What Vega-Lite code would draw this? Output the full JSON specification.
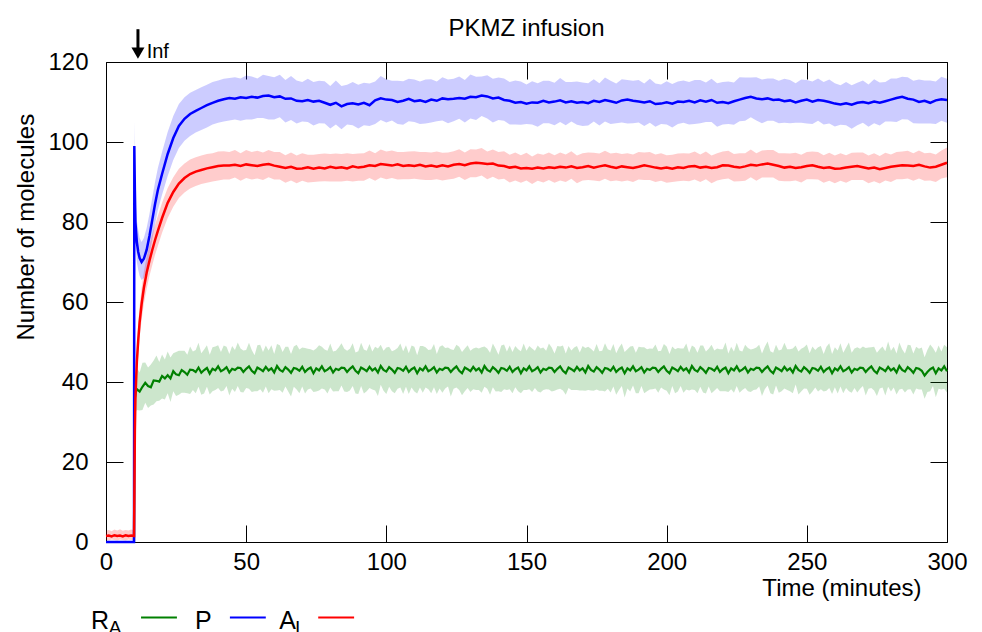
{
"$schema":"https://vega.github.io/schema/vega-lite/v6.json",
"autosize":"none",
"width":841,"height":480,
"padding":{"left":106,"top":62,"right":35,"bottom":90},
"background":"white",
"title":{"text":"PKMZ infusion","font":"Liberation Sans","fontSize":24,"fontWeight":"normal","color":"#000","baseline":"alphabetic","offset":-32,"anchor":"middle"},
"config":{"view":{"stroke":"#000","strokeWidth":1},
 "axis":{"labelFont":"Liberation Sans","labelFontSize":24,"titleFont":"Liberation Sans","titleFontSize":24,"titleFontWeight":"normal","labelColor":"#000","titleColor":"#000","tickColor":"#000","tickWidth":1,"grid":false,"domain":false}},
"resolve":{"axis":{"x":"independent","y":"independent"}},
"datasets":{
"ra":[
{"t":0,"r":0,"l":0,"h":0},{"t":10,"r":0,"l":0,"h":0},
{"t":10.1,"r":30,"l":25,"h":35},{"t":10.3,"r":36,"l":31,"h":41},{"t":10.5,"r":37.2,"l":32.5,"h":42},
{"t":11,"r":38.2,"l":33.0,"h":43.5},{"t":12,"r":37.6,"l":32.9,"h":42.4},{"t":13,"r":38.8,"l":33.0,"h":44.8},{"t":14,"r":39.8,"l":34.8,"h":44.9},{"t":15,"r":39.0,"l":33.5,"h":43.6},
{"t":16,"r":38.7,"l":34.1,"h":44.4},{"t":17,"r":40.4,"l":34.4,"h":45.4},{"t":18,"r":40.3,"l":35.2,"h":46.6},{"t":19,"r":40.1,"l":35.3,"h":45.0},{"t":20,"r":41.5,"l":35.9,"h":46.9},
{"t":21,"r":40.9,"l":35.6,"h":45.6},{"t":22,"r":41.7,"l":37.2,"h":47.6},{"t":23,"r":40.9,"l":35.0,"h":46.1},{"t":24,"r":42.7,"l":37.7,"h":47.2},{"t":25,"r":41.9,"l":36.5,"h":47.5},
{"t":26,"r":41.7,"l":36.8,"h":47.8},{"t":27,"r":43.0,"l":37.3,"h":47.8},{"t":28,"r":42.5,"l":37.3,"h":47.8},{"t":29,"r":41.8,"l":37.2,"h":46.8},{"t":30,"r":43.1,"l":37.0,"h":48.9},
{"t":31,"r":43.0,"l":38.0,"h":47.6},{"t":32,"r":42.5,"l":37.2,"h":48.0},{"t":33,"r":43.6,"l":38.8,"h":49.8},{"t":34,"r":42.3,"l":36.8,"h":47.2},{"t":35,"r":43.0,"l":37.1,"h":48.1},
{"t":36,"r":43.5,"l":38.8,"h":49.2},{"t":37,"r":42.1,"l":36.9,"h":46.8},{"t":38,"r":43.3,"l":37.7,"h":48.7},{"t":39,"r":42.9,"l":38.0,"h":48.9},{"t":40,"r":43.9,"l":38.5,"h":49.2},
{"t":41,"r":42.7,"l":37.6,"h":47.5},{"t":42,"r":43.1,"l":37.9,"h":49.1},{"t":43,"r":43.7,"l":39.0,"h":48.8},{"t":44,"r":42.4,"l":36.6,"h":47.0},{"t":45,"r":43.3,"l":38.3,"h":49.0},
{"t":46,"r":43.0,"l":37.5,"h":48.0},{"t":47,"r":43.6,"l":39.0,"h":49.9},{"t":48,"r":43.5,"l":37.5,"h":48.4},{"t":49,"r":42.5,"l":37.4,"h":47.9},{"t":50,"r":43.3,"l":38.5,"h":48.0},
{"t":51,"r":43.9,"l":38.3,"h":49.8},{"t":52,"r":42.8,"l":37.5,"h":48.0},{"t":53,"r":42.2,"l":37.7,"h":46.7},{"t":54,"r":43.6,"l":37.7,"h":49.2},{"t":55,"r":43.2,"l":38.2,"h":49.3},
{"t":56,"r":42.7,"l":37.3,"h":47.5},{"t":57,"r":43.8,"l":38.9,"h":49.1},{"t":58,"r":42.9,"l":37.2,"h":47.9},{"t":59,"r":43.4,"l":38.2,"h":49.2},{"t":60,"r":42.4,"l":37.8,"h":47.0},
{"t":61,"r":44.0,"l":37.9,"h":49.5},{"t":62,"r":43.0,"l":38.0,"h":49.2},{"t":63,"r":42.6,"l":37.3,"h":47.5},{"t":64,"r":43.7,"l":38.9,"h":48.8},{"t":65,"r":43.1,"l":37.6,"h":48.8},
{"t":66,"r":42.3,"l":36.4,"h":47.0},{"t":67,"r":43.5,"l":38.8,"h":48.9},{"t":68,"r":43.3,"l":38.1,"h":49.3},{"t":69,"r":42.8,"l":37.2,"h":48.1},{"t":70,"r":43.8,"l":38.9,"h":48.6},
{"t":71,"r":42.5,"l":37.1,"h":48.5},{"t":72,"r":43.2,"l":38.1,"h":48.3},{"t":73,"r":43.6,"l":38.4,"h":48.2},{"t":74,"r":42.2,"l":37.5,"h":47.9},{"t":75,"r":43.4,"l":37.6,"h":48.4},
{"t":76,"r":42.9,"l":37.9,"h":49.2},{"t":77,"r":43.9,"l":38.4,"h":48.8},{"t":78,"r":42.7,"l":38.1,"h":48.1},{"t":79,"r":43.1,"l":37.1,"h":47.8},{"t":80,"r":43.7,"l":38.6,"h":49.6},
{"t":81,"r":42.4,"l":37.6,"h":47.6},{"t":82,"r":43.3,"l":37.7,"h":47.8},{"t":83,"r":43.0,"l":37.7,"h":48.6},{"t":84,"r":43.6,"l":39.1,"h":49.7},{"t":85,"r":43.5,"l":37.6,"h":48.3},
{"t":86,"r":42.5,"l":37.5,"h":47.8},{"t":87,"r":43.3,"l":37.9,"h":48.3},{"t":88,"r":43.9,"l":39.0,"h":49.7},{"t":89,"r":42.8,"l":37.1,"h":47.4},{"t":90,"r":42.2,"l":37.0,"h":47.7},
{"t":91,"r":43.6,"l":39.0,"h":49.8},{"t":92,"r":43.2,"l":37.1,"h":48.1},{"t":93,"r":42.7,"l":37.7,"h":47.8},{"t":94,"r":43.8,"l":38.5,"h":49.5},{"t":95,"r":42.9,"l":38.1,"h":47.6},
{"t":96,"r":43.4,"l":37.9,"h":48.8},{"t":97,"r":42.4,"l":36.5,"h":48.4},{"t":98,"r":44.0,"l":39.3,"h":49.3},{"t":99,"r":43.0,"l":37.8,"h":47.8},{"t":100,"r":42.6,"l":37.0,"h":48.6},
{"t":101,"r":43.7,"l":38.8,"h":48.8},{"t":102,"r":43.1,"l":37.7,"h":47.7},{"t":103,"r":42.3,"l":37.2,"h":48.0},{"t":104,"r":43.5,"l":38.3,"h":48.5},{"t":105,"r":43.3,"l":38.6,"h":49.6},
{"t":106,"r":42.8,"l":37.0,"h":47.7},{"t":107,"r":43.8,"l":38.8,"h":49.2},{"t":108,"r":42.5,"l":37.0,"h":47.2},{"t":109,"r":43.2,"l":38.6,"h":49.1},{"t":110,"r":43.6,"l":37.6,"h":48.8},
{"t":111,"r":42.2,"l":37.1,"h":46.7},{"t":112,"r":43.4,"l":38.6,"h":49.0},{"t":113,"r":42.9,"l":37.3,"h":49.0},{"t":114,"r":43.9,"l":38.6,"h":48.7},{"t":115,"r":42.7,"l":38.2,"h":48.0},
{"t":116,"r":43.1,"l":37.2,"h":48.1},{"t":117,"r":43.7,"l":38.7,"h":49.5},{"t":118,"r":42.4,"l":37.0,"h":47.0},{"t":119,"r":43.3,"l":38.4,"h":48.8},{"t":120,"r":43.0,"l":37.3,"h":49.2},
{"t":121,"r":43.6,"l":38.4,"h":48.5},{"t":122,"r":43.5,"l":38.9,"h":48.6},{"t":123,"r":42.5,"l":36.4,"h":48.2},{"t":124,"r":43.3,"l":38.3,"h":48.0},{"t":125,"r":43.9,"l":38.6,"h":49.3},
{"t":126,"r":42.8,"l":38.0,"h":48.8},{"t":127,"r":42.2,"l":36.7,"h":47.5},{"t":128,"r":43.6,"l":37.7,"h":48.4},{"t":129,"r":43.2,"l":38.5,"h":49.2},{"t":130,"r":42.7,"l":37.5,"h":47.8},
{"t":131,"r":43.8,"l":38.2,"h":48.4},{"t":132,"r":42.9,"l":38.0,"h":48.6},{"t":133,"r":43.4,"l":38.0,"h":48.4},{"t":134,"r":42.4,"l":37.3,"h":48.7},{"t":135,"r":44.0,"l":38.8,"h":48.9},
{"t":136,"r":43.0,"l":38.3,"h":48.4},{"t":137,"r":42.6,"l":36.8,"h":47.3},{"t":138,"r":43.7,"l":38.7,"h":49.6},{"t":139,"r":43.1,"l":37.6,"h":48.3},{"t":140,"r":42.3,"l":37.7,"h":46.8},
{"t":141,"r":43.5,"l":37.5,"h":49.1},{"t":142,"r":43.3,"l":38.2,"h":49.4},{"t":143,"r":42.8,"l":38.0,"h":47.6},{"t":144,"r":43.8,"l":38.2,"h":49.1},{"t":145,"r":42.5,"l":37.2,"h":47.5},
{"t":146,"r":43.2,"l":38.7,"h":49.0},{"t":147,"r":43.6,"l":37.7,"h":48.2},{"t":148,"r":42.2,"l":37.2,"h":47.7},{"t":149,"r":43.4,"l":38.0,"h":49.6},{"t":150,"r":42.9,"l":38.0,"h":47.8},
{"t":151,"r":43.9,"l":38.2,"h":49.0},{"t":152,"r":42.7,"l":37.5,"h":48.4},{"t":153,"r":43.1,"l":38.5,"h":47.8},{"t":154,"r":43.7,"l":37.6,"h":49.1},{"t":155,"r":42.4,"l":37.4,"h":48.4},
{"t":156,"r":43.3,"l":38.0,"h":48.6},{"t":157,"r":43.0,"l":38.2,"h":47.8},{"t":158,"r":43.6,"l":38.1,"h":49.6},{"t":159,"r":43.5,"l":37.6,"h":48.6},{"t":160,"r":42.5,"l":37.8,"h":47.1},
{"t":161,"r":43.3,"l":38.1,"h":49.0},{"t":162,"r":43.9,"l":38.3,"h":48.9},{"t":163,"r":42.8,"l":37.9,"h":49.1},{"t":164,"r":42.2,"l":36.8,"h":47.1},{"t":165,"r":43.6,"l":38.5,"h":49.0},
{"t":166,"r":43.2,"l":38.0,"h":47.9},{"t":167,"r":42.7,"l":38.0,"h":48.6},{"t":168,"r":43.8,"l":38.0,"h":49.0},{"t":169,"r":42.9,"l":37.9,"h":47.4},{"t":170,"r":43.4,"l":37.9,"h":49.0},
{"t":171,"r":42.4,"l":37.8,"h":48.5},{"t":172,"r":44.0,"l":38.0,"h":48.8},{"t":173,"r":43.0,"l":37.9,"h":48.3},{"t":174,"r":42.6,"l":37.8,"h":47.6},{"t":175,"r":43.7,"l":38.1,"h":49.5},
{"t":176,"r":43.1,"l":37.8,"h":47.7},{"t":177,"r":42.3,"l":37.8,"h":47.8},{"t":178,"r":43.5,"l":37.6,"h":49.7},{"t":179,"r":43.3,"l":38.3,"h":48.2},{"t":180,"r":42.8,"l":37.4,"h":47.9},
{"t":181,"r":43.8,"l":38.9,"h":49.5},{"t":182,"r":42.5,"l":36.8,"h":47.2},{"t":183,"r":43.2,"l":38.0,"h":48.6},{"t":184,"r":43.6,"l":39.0,"h":49.6},{"t":185,"r":42.2,"l":36.1,"h":47.5},
{"t":186,"r":43.4,"l":38.4,"h":48.2},{"t":187,"r":42.9,"l":37.6,"h":48.9},{"t":188,"r":43.9,"l":39.1,"h":49.0},{"t":189,"r":42.7,"l":37.2,"h":47.3},{"t":190,"r":43.1,"l":37.2,"h":48.8},
{"t":191,"r":43.7,"l":39.0,"h":48.7},{"t":192,"r":42.4,"l":37.2,"h":48.7},{"t":193,"r":43.3,"l":37.7,"h":48.2},{"t":194,"r":43.0,"l":38.1,"h":48.4},{"t":195,"r":43.6,"l":38.2,"h":48.3},
{"t":196,"r":43.5,"l":38.4,"h":49.4},{"t":197,"r":42.5,"l":37.3,"h":47.7},{"t":198,"r":43.3,"l":38.6,"h":47.8},{"t":199,"r":43.9,"l":38.1,"h":49.5},{"t":200,"r":42.8,"l":37.8,"h":48.9},
{"t":201,"r":42.2,"l":36.7,"h":47.0},{"t":202,"r":43.6,"l":39.0,"h":48.9},{"t":203,"r":43.2,"l":37.2,"h":48.2},{"t":204,"r":42.7,"l":37.6,"h":48.5},{"t":205,"r":43.8,"l":39.0,"h":48.4},
{"t":206,"r":42.9,"l":37.3,"h":48.4},{"t":207,"r":43.4,"l":38.1,"h":49.6},{"t":208,"r":42.4,"l":37.9,"h":47.3},{"t":209,"r":44.0,"l":38.1,"h":49.1},{"t":210,"r":43.0,"l":38.0,"h":48.7},
{"t":211,"r":42.6,"l":37.2,"h":47.3},{"t":212,"r":43.7,"l":38.8,"h":49.1},{"t":213,"r":43.1,"l":37.4,"h":49.1},{"t":214,"r":42.3,"l":37.1,"h":47.6},{"t":215,"r":43.5,"l":38.9,"h":48.3},
{"t":216,"r":43.3,"l":37.2,"h":49.3},{"t":217,"r":42.8,"l":37.8,"h":47.9},{"t":218,"r":43.8,"l":38.5,"h":48.4},{"t":219,"r":42.5,"l":37.7,"h":48.2},{"t":220,"r":43.2,"l":37.7,"h":48.2},
{"t":221,"r":43.6,"l":37.7,"h":49.9},{"t":222,"r":42.2,"l":37.5,"h":47.1},{"t":223,"r":43.4,"l":38.2,"h":48.8},{"t":224,"r":42.9,"l":37.3,"h":47.6},{"t":225,"r":43.9,"l":39.0,"h":49.8},
{"t":226,"r":42.7,"l":37.3,"h":47.9},{"t":227,"r":43.1,"l":38.0,"h":47.6},{"t":228,"r":43.7,"l":38.5,"h":49.3},{"t":229,"r":42.4,"l":37.7,"h":48.5},{"t":230,"r":43.3,"l":37.5,"h":48.1},
{"t":231,"r":43.0,"l":38.0,"h":48.3},{"t":232,"r":43.6,"l":38.1,"h":48.6},{"t":233,"r":43.5,"l":38.9,"h":49.3},{"t":234,"r":42.5,"l":36.5,"h":47.1},{"t":235,"r":43.3,"l":38.2,"h":48.8},
{"t":236,"r":43.9,"l":39.1,"h":50.1},{"t":237,"r":42.8,"l":37.2,"h":47.7},{"t":238,"r":42.2,"l":36.9,"h":47.3},{"t":239,"r":43.6,"l":39.1,"h":49.3},{"t":240,"r":43.2,"l":37.3,"h":47.9},
{"t":241,"r":42.7,"l":37.7,"h":48.1},{"t":242,"r":43.8,"l":38.4,"h":49.8},{"t":243,"r":42.9,"l":38.0,"h":48.2},{"t":244,"r":43.4,"l":37.7,"h":48.2},{"t":245,"r":42.4,"l":37.2,"h":48.4},
{"t":246,"r":44.0,"l":39.4,"h":49.1},{"t":247,"r":43.0,"l":36.9,"h":47.6},{"t":248,"r":42.6,"l":37.6,"h":48.3},{"t":249,"r":43.7,"l":38.4,"h":48.7},{"t":250,"r":43.1,"l":38.3,"h":49.4},
{"t":251,"r":42.3,"l":36.8,"h":47.2},{"t":252,"r":43.5,"l":37.6,"h":48.9},{"t":253,"r":43.3,"l":38.6,"h":48.0},{"t":254,"r":42.8,"l":37.6,"h":48.7},{"t":255,"r":43.8,"l":38.2,"h":49.0},
{"t":256,"r":42.5,"l":37.6,"h":47.0},{"t":257,"r":43.2,"l":37.8,"h":48.8},{"t":258,"r":43.6,"l":38.5,"h":49.7},{"t":259,"r":42.2,"l":37.0,"h":47.0},{"t":260,"r":43.4,"l":38.7,"h":48.7},
{"t":261,"r":42.9,"l":37.1,"h":47.9},{"t":262,"r":43.9,"l":38.9,"h":49.7},{"t":263,"r":42.7,"l":37.2,"h":47.3},{"t":264,"r":43.1,"l":38.5,"h":48.6},{"t":265,"r":43.7,"l":37.7,"h":49.9},
{"t":266,"r":42.4,"l":37.3,"h":47.3},{"t":267,"r":43.3,"l":38.5,"h":48.4},{"t":268,"r":43.0,"l":37.4,"h":48.7},{"t":269,"r":43.6,"l":38.3,"h":48.3},{"t":270,"r":43.5,"l":39.0,"h":48.9},
{"t":271,"r":42.5,"l":36.6,"h":48.5},{"t":272,"r":43.3,"l":38.3,"h":48.6},{"t":273,"r":43.9,"l":38.5,"h":48.7},{"t":274,"r":42.8,"l":37.9,"h":48.8},{"t":275,"r":42.2,"l":36.5,"h":47.3},
{"t":276,"r":43.6,"l":38.4,"h":48.2},{"t":277,"r":43.2,"l":38.6,"h":48.9},{"t":278,"r":42.7,"l":36.6,"h":47.7},{"t":279,"r":43.8,"l":38.8,"h":50.1},{"t":280,"r":42.9,"l":37.6,"h":47.8},
{"t":281,"r":43.4,"l":38.6,"h":48.8},{"t":282,"r":42.4,"l":36.9,"h":47.1},{"t":283,"r":44.0,"l":38.1,"h":49.9},{"t":284,"r":43.0,"l":38.3,"h":48.2},{"t":285,"r":42.6,"l":37.4,"h":47.1},
{"t":286,"r":43.7,"l":38.1,"h":49.3},{"t":287,"r":43.1,"l":38.2,"h":49.2},{"t":288,"r":42.3,"l":36.9,"h":47.1},{"t":289,"r":43.5,"l":38.4,"h":48.8},{"t":290,"r":43.3,"l":38.1,"h":48.3},
{"t":291,"r":42.8,"l":38.1,"h":48.6},{"t":292,"r":41.6,"l":35.8,"h":46.2},{"t":293,"r":42.5,"l":37.5,"h":48.0},{"t":294,"r":43.2,"l":37.7,"h":49.4},{"t":295,"r":43.6,"l":39.0,"h":48.5},
{"t":296,"r":42.2,"l":36.2,"h":47.3},{"t":297,"r":43.4,"l":38.3,"h":49.1},{"t":298,"r":42.9,"l":38.1,"h":47.6},{"t":299,"r":43.9,"l":38.3,"h":49.3},{"t":300,"r":42.7,"l":37.4,"h":48.7}
],
"pa":[
{"t":0,"p":0,"pl":0,"ph":0,"a":1.5,"al":0.5,"ah":2.8},
{"t":1,"p":0,"pl":0,"ph":0,"a":1.6,"al":0.4,"ah":3.0},
{"t":2,"p":0,"pl":0,"ph":0,"a":1.4,"al":0.6,"ah":2.7},
{"t":3,"p":0,"pl":0,"ph":0,"a":1.7,"al":0.5,"ah":3.1},
{"t":4,"p":0,"pl":0,"ph":0,"a":1.5,"al":0.4,"ah":2.9},
{"t":5,"p":0,"pl":0,"ph":0,"a":1.6,"al":0.6,"ah":3.2},
{"t":6,"p":0,"pl":0,"ph":0,"a":1.4,"al":0.5,"ah":2.8},
{"t":7,"p":0,"pl":0,"ph":0,"a":1.7,"al":0.4,"ah":3.0},
{"t":8,"p":0,"pl":0,"ph":0,"a":1.5,"al":0.6,"ah":2.9},
{"t":9,"p":0,"pl":0,"ph":0,"a":1.6,"al":0.5,"ah":3.1},
{"t":10,"p":0,"pl":0,"ph":0,"a":1.5,"al":0.5,"ah":2.9},
{"t":10.1,"p":99,"pl":93,"ph":105.5,"a":10,"al":7,"ah":13},
{"t":10.3,"p":88,"pl":82,"ph":94,"a":28,"al":24,"ah":32},
{"t":10.5,"p":80,"pl":75,"ph":86,"a":36,"al":32,"ah":40},
{"t":11,"p":75,"pl":70,"ph":80.5,"a":45,"al":41,"ah":49},
{"t":11.5,"p":72.5,"pl":68,"ph":78,"a":50.5,"al":46.5,"ah":54.5},
{"t":12,"p":71,"pl":66.5,"ph":76,"a":55,"al":51,"ah":59},
{"t":12.7,"p":70,"pl":65.5,"ph":75,"a":59.5,"al":55.5,"ah":63.5},
{"t":13.5,"p":70.8,"pl":66,"ph":76,"a":63.5,"al":59.5,"ah":67.5},
{"t":14.5,"p":73,"pl":68,"ph":78.5,"a":67.3,"al":63.3,"ah":71.3},
{"t":15.5,"p":76.5,"pl":71.5,"ph":82,"a":70.3,"al":66.5,"ah":74.3},
{"t":16.5,"p":80.5,"pl":75.5,"ph":86,"a":73,"al":69.2,"ah":77},
{"t":17.5,"p":84.5,"pl":79.5,"ph":90,"a":75.5,"al":71.8,"ah":79.3},
{"t":18.5,"p":88,"pl":83,"ph":93.5,"a":77.8,"al":74,"ah":81.5},
{"t":20,"p":92,"pl":86.8,"ph":97.5,"a":81,"al":77.3,"ah":84.8},
{"t":22,"p":97,"pl":91.5,"ph":102.5,"a":84.8,"al":81,"ah":88.5},
{"t":24,"p":101,"pl":95.5,"ph":106.5,"a":87.5,"al":83.8,"ah":91.2},
{"t":26,"p":104,"pl":98.5,"ph":109.5,"a":89.6,"al":86,"ah":93.3},
{"t":28,"p":105.8,"pl":100.3,"ph":111.2,"a":91,"al":87.4,"ah":94.6},
{"t":30,"p":107,"pl":101.5,"ph":112.3,"a":92,"al":88.4,"ah":95.6},
{"t":32,"p":107.8,"pl":102.4,"ph":113,"a":92.6,"al":89,"ah":96.2},
{"t":34,"p":108.5,"pl":103,"ph":113.7,"a":93,"al":89.5,"ah":96.6},
{"t":36,"p":109.2,"pl":103.6,"ph":114.3,"a":93.4,"al":89.8,"ah":97},
{"t":38,"p":109.8,"pl":104.4,"ph":115,"a":93.7,"al":90.1,"ah":97.2},
{"t":40,"p":110.3,"pl":104.8,"ph":115.4,"a":94,"al":90.4,"ah":97.6},
{"t":42,"p":110.7,"pl":105.1,"ph":115.8,"a":94.1,"al":90.6,"ah":97.7},
{"t":44,"p":111.0,"pl":105.4,"ph":116.0,"a":94.1,"al":90.6,"ah":97.5},
{"t":46,"p":110.8,"pl":105.6,"ph":116.2,"a":94.3,"al":91.1,"ah":98.0},
{"t":48,"p":111.2,"pl":105.3,"ph":115.9,"a":94.0,"al":90.3,"ah":97.2},
{"t":50,"p":111.0,"pl":105.6,"ph":116.6,"a":94.4,"al":91.0,"ah":98.0},
{"t":52,"p":111.3,"pl":105.6,"ph":116.4,"a":94.2,"al":90.6,"ah":97.5},
{"t":54,"p":111.1,"pl":106.0,"ph":115.9,"a":94.0,"al":90.9,"ah":97.8},
{"t":56,"p":111.5,"pl":106.0,"ph":116.8,"a":94.3,"al":90.5,"ah":97.4},
{"t":58,"p":111.6,"pl":105.6,"ph":116.5,"a":94.5,"al":91.2,"ah":98.0},
{"t":60,"p":111.2,"pl":105.6,"ph":116.2,"a":94.1,"al":90.6,"ah":97.5},
{"t":62,"p":111.4,"pl":106.2,"ph":116.8,"a":93.8,"al":90.6,"ah":97.5},
{"t":64,"p":110.8,"pl":104.9,"ph":115.5,"a":93.5,"al":89.8,"ah":96.7},
{"t":66,"p":110.9,"pl":105.5,"ph":116.5,"a":93.8,"al":90.4,"ah":97.4},
{"t":68,"p":110.3,"pl":104.6,"ph":115.4,"a":93.3,"al":89.7,"ah":96.6},
{"t":70,"p":110.2,"pl":105.1,"ph":115.0,"a":93.4,"al":90.3,"ah":97.2},
{"t":72,"p":110.5,"pl":105.0,"ph":115.8,"a":93.7,"al":89.9,"ah":96.8},
{"t":74,"p":110.1,"pl":104.1,"ph":115.0,"a":93.3,"al":90.0,"ah":96.8},
{"t":76,"p":110.3,"pl":104.7,"ph":115.3,"a":93.6,"al":90.1,"ah":97.0},
{"t":78,"p":109.8,"pl":104.6,"ph":115.2,"a":93.4,"al":90.2,"ah":97.1},
{"t":80,"p":109.3,"pl":103.4,"ph":114.0,"a":93.8,"al":90.1,"ah":97.0},
{"t":82,"p":109.8,"pl":104.4,"ph":115.4,"a":93.5,"al":90.1,"ah":97.1},
{"t":84,"p":108.9,"pl":103.2,"ph":114.0,"a":93.7,"al":90.1,"ah":97.0},
{"t":86,"p":109.5,"pl":104.4,"ph":114.3,"a":93.4,"al":90.3,"ah":97.2},
{"t":88,"p":109.7,"pl":104.2,"ph":115.0,"a":93.9,"al":90.1,"ah":97.0},
{"t":90,"p":109.4,"pl":103.4,"ph":114.3,"a":93.6,"al":90.3,"ah":97.1},
{"t":92,"p":109.8,"pl":104.2,"ph":114.8,"a":93.8,"al":90.3,"ah":97.2},
{"t":94,"p":109.2,"pl":104.0,"ph":114.6,"a":94.2,"al":91.0,"ah":97.9},
{"t":96,"p":110.4,"pl":104.5,"ph":115.1,"a":94.0,"al":90.3,"ah":97.2},
{"t":98,"p":110.9,"pl":105.5,"ph":116.5,"a":94.5,"al":91.1,"ah":98.1},
{"t":100,"p":110.6,"pl":104.9,"ph":115.7,"a":94.3,"al":90.7,"ah":97.6},
{"t":102,"p":110.5,"pl":105.4,"ph":115.3,"a":94.1,"al":91.0,"ah":97.9},
{"t":104,"p":110.0,"pl":104.5,"ph":115.3,"a":94.4,"al":90.6,"ah":97.5},
{"t":106,"p":110.3,"pl":104.3,"ph":115.2,"a":94.0,"al":90.7,"ah":97.5},
{"t":108,"p":110.8,"pl":105.2,"ph":115.8,"a":94.2,"al":90.7,"ah":97.6},
{"t":110,"p":110.2,"pl":105.0,"ph":115.6,"a":94.0,"al":90.8,"ah":97.7},
{"t":112,"p":110.4,"pl":104.5,"ph":115.1,"a":94.3,"al":90.6,"ah":97.5},
{"t":114,"p":110.0,"pl":104.6,"ph":115.6,"a":93.9,"al":90.5,"ah":97.5},
{"t":116,"p":110.6,"pl":104.9,"ph":115.7,"a":94.1,"al":90.5,"ah":97.4},
{"t":118,"p":110.3,"pl":105.2,"ph":115.1,"a":93.8,"al":90.7,"ah":97.6},
{"t":120,"p":110.9,"pl":105.4,"ph":116.2,"a":94.2,"al":90.4,"ah":97.3},
{"t":122,"p":110.7,"pl":104.7,"ph":115.6,"a":93.9,"al":90.6,"ah":97.4},
{"t":124,"p":110.8,"pl":105.2,"ph":115.8,"a":94.3,"al":90.8,"ah":97.7},
{"t":126,"p":111.0,"pl":105.8,"ph":116.4,"a":94.5,"al":91.3,"ah":98.2},
{"t":128,"p":110.8,"pl":104.9,"ph":115.5,"a":94.2,"al":90.5,"ah":97.4},
{"t":130,"p":111.3,"pl":105.9,"ph":116.9,"a":94.6,"al":91.2,"ah":98.2},
{"t":132,"p":111.2,"pl":105.5,"ph":116.3,"a":94.8,"al":91.2,"ah":98.1},
{"t":134,"p":111.6,"pl":106.5,"ph":116.4,"a":94.7,"al":91.6,"ah":98.5},
{"t":136,"p":111.4,"pl":105.9,"ph":116.7,"a":94.5,"al":90.7,"ah":97.6},
{"t":138,"p":110.9,"pl":104.9,"ph":115.8,"a":94.6,"al":91.3,"ah":98.1},
{"t":140,"p":111.1,"pl":105.5,"ph":116.1,"a":94.1,"al":90.6,"ah":97.5},
{"t":142,"p":110.5,"pl":105.3,"ph":115.9,"a":94.0,"al":90.8,"ah":97.7},
{"t":144,"p":110.3,"pl":104.4,"ph":115.0,"a":93.6,"al":89.9,"ah":96.8},
{"t":146,"p":109.8,"pl":104.4,"ph":115.4,"a":93.8,"al":90.4,"ah":97.4},
{"t":148,"p":110.0,"pl":104.3,"ph":115.1,"a":93.4,"al":89.8,"ah":96.7},
{"t":150,"p":109.6,"pl":104.5,"ph":114.4,"a":93.5,"al":90.4,"ah":97.3},
{"t":152,"p":109.9,"pl":104.4,"ph":115.2,"a":93.3,"al":89.5,"ah":96.4},
{"t":154,"p":109.8,"pl":103.8,"ph":114.7,"a":93.6,"al":90.3,"ah":97.1},
{"t":156,"p":110.3,"pl":104.7,"ph":115.3,"a":93.4,"al":89.9,"ah":96.8},
{"t":158,"p":109.9,"pl":104.7,"ph":115.3,"a":93.7,"al":90.5,"ah":97.4},
{"t":160,"p":110.1,"pl":104.2,"ph":114.8,"a":93.5,"al":89.8,"ah":96.7},
{"t":162,"p":110.4,"pl":105.0,"ph":116.0,"a":93.8,"al":90.4,"ah":97.4},
{"t":164,"p":109.9,"pl":104.2,"ph":115.0,"a":93.6,"al":90.0,"ah":96.9},
{"t":166,"p":110.2,"pl":105.1,"ph":115.0,"a":93.9,"al":90.8,"ah":97.7},
{"t":168,"p":109.8,"pl":104.3,"ph":115.1,"a":93.5,"al":89.7,"ah":96.6},
{"t":170,"p":110.0,"pl":104.0,"ph":114.9,"a":93.7,"al":90.4,"ah":97.2},
{"t":172,"p":109.7,"pl":104.1,"ph":114.7,"a":94.0,"al":90.5,"ah":97.4},
{"t":174,"p":110.3,"pl":105.1,"ph":115.7,"a":93.6,"al":90.4,"ah":97.3},
{"t":176,"p":110.0,"pl":104.1,"ph":114.7,"a":93.9,"al":90.2,"ah":97.1},
{"t":178,"p":110.5,"pl":105.1,"ph":116.1,"a":94.2,"al":90.8,"ah":97.8},
{"t":180,"p":110.2,"pl":104.5,"ph":115.3,"a":93.8,"al":90.2,"ah":97.1},
{"t":182,"p":109.8,"pl":104.7,"ph":114.6,"a":93.5,"al":90.4,"ah":97.3},
{"t":184,"p":110.4,"pl":104.9,"ph":115.7,"a":93.9,"al":90.1,"ah":97.0},
{"t":186,"p":110.6,"pl":104.6,"ph":115.5,"a":93.7,"al":90.4,"ah":97.2},
{"t":188,"p":110.3,"pl":104.7,"ph":115.3,"a":93.5,"al":90.0,"ah":96.9},
{"t":190,"p":110.1,"pl":104.9,"ph":115.5,"a":93.8,"al":90.6,"ah":97.5},
{"t":192,"p":109.9,"pl":104.0,"ph":114.6,"a":94.2,"al":90.5,"ah":97.4},
{"t":194,"p":110.2,"pl":104.8,"ph":115.8,"a":93.9,"al":90.5,"ah":97.5},
{"t":196,"p":109.5,"pl":103.8,"ph":114.6,"a":93.6,"al":90.0,"ah":96.9},
{"t":198,"p":109.6,"pl":104.5,"ph":114.4,"a":93.4,"al":90.3,"ah":97.2},
{"t":200,"p":109.9,"pl":104.4,"ph":115.2,"a":93.6,"al":89.8,"ah":96.7},
{"t":202,"p":109.6,"pl":103.6,"ph":114.5,"a":93.3,"al":90.0,"ah":96.8},
{"t":204,"p":110.1,"pl":104.5,"ph":115.1,"a":93.7,"al":90.2,"ah":97.1},
{"t":206,"p":110.0,"pl":104.8,"ph":115.4,"a":93.5,"al":90.3,"ah":97.2},
{"t":208,"p":110.3,"pl":104.4,"ph":115.0,"a":93.9,"al":90.2,"ah":97.1},
{"t":210,"p":109.9,"pl":104.5,"ph":115.5,"a":94.0,"al":90.6,"ah":97.6},
{"t":212,"p":110.4,"pl":104.7,"ph":115.5,"a":93.6,"al":90.0,"ah":96.9},
{"t":214,"p":110.1,"pl":105.0,"ph":114.9,"a":93.8,"al":90.7,"ah":97.6},
{"t":216,"p":110.5,"pl":105.0,"ph":115.8,"a":93.5,"al":89.7,"ah":96.6},
{"t":218,"p":109.8,"pl":103.8,"ph":114.7,"a":93.7,"al":90.4,"ah":97.2},
{"t":220,"p":110.0,"pl":104.4,"ph":115.0,"a":94.2,"al":90.7,"ah":97.6},
{"t":222,"p":109.7,"pl":104.5,"ph":115.1,"a":94.1,"al":90.9,"ah":97.8},
{"t":224,"p":110.2,"pl":104.3,"ph":114.9,"a":93.8,"al":90.1,"ah":97.0},
{"t":226,"p":110.6,"pl":105.2,"ph":116.2,"a":93.6,"al":90.2,"ah":97.2},
{"t":228,"p":111.0,"pl":105.3,"ph":116.1,"a":93.9,"al":90.3,"ah":97.2},
{"t":230,"p":111.3,"pl":106.2,"ph":116.1,"a":94.3,"al":91.2,"ah":98.1},
{"t":232,"p":110.9,"pl":105.4,"ph":116.2,"a":94.1,"al":90.3,"ah":97.2},
{"t":234,"p":110.7,"pl":104.7,"ph":115.6,"a":94.4,"al":91.1,"ah":97.9},
{"t":236,"p":110.9,"pl":105.3,"ph":115.9,"a":94.6,"al":91.1,"ah":98.0},
{"t":238,"p":110.5,"pl":105.3,"ph":115.9,"a":94.3,"al":91.1,"ah":98.0},
{"t":240,"p":110.6,"pl":104.7,"ph":115.3,"a":94.0,"al":90.3,"ah":97.2},
{"t":242,"p":110.2,"pl":104.8,"ph":115.8,"a":93.6,"al":90.2,"ah":97.2},
{"t":244,"p":110.4,"pl":104.7,"ph":115.5,"a":93.8,"al":90.2,"ah":97.1},
{"t":246,"p":109.9,"pl":104.8,"ph":114.7,"a":93.5,"al":90.4,"ah":97.3},
{"t":248,"p":110.3,"pl":104.8,"ph":115.6,"a":93.7,"al":89.9,"ah":96.8},
{"t":250,"p":110.6,"pl":104.6,"ph":115.5,"a":94.0,"al":90.7,"ah":97.5},
{"t":252,"p":110.1,"pl":104.5,"ph":115.1,"a":94.2,"al":90.7,"ah":97.6},
{"t":254,"p":110.5,"pl":105.3,"ph":115.9,"a":93.8,"al":90.6,"ah":97.5},
{"t":256,"p":110.3,"pl":104.4,"ph":115.0,"a":93.5,"al":89.8,"ah":96.7},
{"t":258,"p":110.0,"pl":104.6,"ph":115.6,"a":93.7,"al":90.3,"ah":97.3},
{"t":260,"p":109.6,"pl":103.9,"ph":114.7,"a":93.3,"al":89.7,"ah":96.6},
{"t":262,"p":109.4,"pl":104.3,"ph":114.2,"a":93.4,"al":90.3,"ah":97.2},
{"t":264,"p":109.7,"pl":104.2,"ph":115.0,"a":93.6,"al":89.8,"ah":96.7},
{"t":266,"p":109.3,"pl":103.3,"ph":114.2,"a":93.8,"al":90.5,"ah":97.3},
{"t":268,"p":109.8,"pl":104.2,"ph":114.8,"a":94.0,"al":90.5,"ah":97.4},
{"t":270,"p":110.0,"pl":104.8,"ph":115.4,"a":93.7,"al":90.5,"ah":97.4},
{"t":272,"p":109.7,"pl":103.8,"ph":114.4,"a":93.4,"al":89.7,"ah":96.6},
{"t":274,"p":110.1,"pl":104.7,"ph":115.7,"a":93.6,"al":90.2,"ah":97.2},
{"t":276,"p":109.8,"pl":104.1,"ph":114.9,"a":93.2,"al":89.6,"ah":96.5},
{"t":278,"p":110.2,"pl":105.1,"ph":115.0,"a":93.5,"al":90.4,"ah":97.3},
{"t":280,"p":110.6,"pl":105.1,"ph":115.9,"a":93.8,"al":90.0,"ah":96.9},
{"t":282,"p":111.0,"pl":105.0,"ph":115.9,"a":94.0,"al":90.7,"ah":97.5},
{"t":284,"p":111.3,"pl":105.7,"ph":116.3,"a":94.2,"al":90.7,"ah":97.6},
{"t":286,"p":110.8,"pl":105.6,"ph":116.2,"a":94.1,"al":90.9,"ah":97.8},
{"t":288,"p":110.6,"pl":104.7,"ph":115.3,"a":94.0,"al":90.3,"ah":97.2},
{"t":290,"p":110.0,"pl":104.6,"ph":115.6,"a":94.3,"al":90.9,"ah":97.9},
{"t":292,"p":110.3,"pl":104.6,"ph":115.4,"a":93.9,"al":90.3,"ah":97.2},
{"t":294,"p":109.8,"pl":104.6,"ph":115.4,"a":93.6,"al":90.4,"ah":97.3},
{"t":296,"p":110.4,"pl":104.5,"ph":115.1,"a":93.8,"al":90.0,"ah":96.9},
{"t":298,"p":110.7,"pl":105.3,"ph":116.3,"a":94.3,"al":90.9,"ah":97.9},
{"t":300,"p":110.5,"pl":104.8,"ph":115.8,"a":94.8,"al":91.2,"ah":98.6}
]},
"data":{"name":"pa"},
"layer":[
{"data":{"name":"ra"},
 "mark":{"type":"area","color":"#008000","fillOpacity":0.2},
 "encoding":{
  "x":{"field":"t","type":"quantitative","scale":{"domain":[0,300],"nice":false,"zero":false},
   "axis":{"orient":"bottom","values":[0,50,100,150,200,250,300],"title":"Time (minutes)","tickSize":-17,"labelPadding":25,"labelFlush":false,"titleX":815,"titleY":53,"titleAlign":"right","titleBaseline":"alphabetic"}},
  "y":{"field":"l","type":"quantitative","scale":{"domain":[0,120],"nice":false,"zero":false},
   "axis":{"orient":"left","values":[0,20,40,60,80,100,120],"title":"Number of molecules","tickSize":-17,"labelPadding":35,"labelFlush":false,"titleX":-72.7,"titleY":164.7,"titleAngle":270,"titleAlign":"center","titleBaseline":"alphabetic"}},
  "y2":{"field":"h"}}},
{"mark":{"type":"area","color":"#0000ff","fillOpacity":0.2},
 "encoding":{
  "x":{"field":"t","type":"quantitative","scale":{"domain":[0,300],"nice":false,"zero":false},
   "axis":{"orient":"top","values":[0,50,100,150,200,250,300],"labels":false,"title":null,"tickSize":-17}},
  "y":{"field":"pl","type":"quantitative","scale":{"domain":[0,120],"nice":false,"zero":false},
   "axis":{"orient":"right","values":[0,20,40,60,80,100,120],"labels":false,"title":null,"tickSize":-17}},
  "y2":{"field":"ph"}}},
{"mark":{"type":"area","color":"#ff0000","fillOpacity":0.2},
 "encoding":{
  "x":{"field":"t","type":"quantitative","scale":{"domain":[0,300],"nice":false,"zero":false},"axis":null},
  "y":{"field":"al","type":"quantitative","scale":{"domain":[0,120],"nice":false,"zero":false},"axis":null},
  "y2":{"field":"ah"}}},
{"data":{"name":"ra"},
 "mark":{"type":"line","color":"#008000","strokeWidth":2.2},
 "encoding":{
  "x":{"field":"t","type":"quantitative","scale":{"domain":[0,300],"nice":false,"zero":false},"axis":null},
  "y":{"field":"r","type":"quantitative","scale":{"domain":[0,120],"nice":false,"zero":false},"axis":null}}},
{"mark":{"type":"line","color":"#0000ff","strokeWidth":2.5},
 "encoding":{
  "x":{"field":"t","type":"quantitative","scale":{"domain":[0,300],"nice":false,"zero":false},"axis":null},
  "y":{"field":"p","type":"quantitative","scale":{"domain":[0,120],"nice":false,"zero":false},"axis":null}}},
{"mark":{"type":"line","color":"#ff0000","strokeWidth":2.5},
 "encoding":{
  "x":{"field":"t","type":"quantitative","scale":{"domain":[0,300],"nice":false,"zero":false},"axis":null},
  "y":{"field":"a","type":"quantitative","scale":{"domain":[0,120],"nice":false,"zero":false},"axis":null}}},
{"data":{"values":[{}]},
 "mark":{"type":"rule","color":"#000","strokeWidth":3},
 "encoding":{
  "x":{"datum":11.4,"type":"quantitative","scale":{"domain":[0,300],"nice":false,"zero":false},"axis":null},
  "y":{"datum":128.2,"type":"quantitative","scale":{"domain":[0,120],"nice":false,"zero":false},"axis":null},
  "y2":{"datum":123}}},
{"data":{"values":[{}]},
 "mark":{"type":"point","shape":"triangle-down","filled":true,"size":169,"color":"#000","opacity":1},
 "encoding":{
  "x":{"datum":11.4,"type":"quantitative","scale":{"domain":[0,300],"nice":false,"zero":false},"axis":null},
  "y":{"datum":122.2,"type":"quantitative","scale":{"domain":[0,120],"nice":false,"zero":false},"axis":null}}},
{"data":{"values":[{}]},
 "mark":{"type":"text","text":"Inf","font":"Liberation Sans","fontSize":20,"align":"left","baseline":"alphabetic","color":"#000"},
 "encoding":{
  "x":{"datum":14.5,"type":"quantitative","scale":{"domain":[0,300],"nice":false,"zero":false},"axis":null},
  "y":{"datum":120.9,"type":"quantitative","scale":{"domain":[0,120],"nice":false,"zero":false},"axis":null}}},
{"data":{"values":[{}]},
 "mark":{"type":"text","text":"R","font":"Liberation Sans","fontSize":25,"align":"left","baseline":"alphabetic","color":"#000"},
 "encoding":{
  "x":{"datum":-5.35,"type":"quantitative","scale":{"domain":[0,300],"nice":false,"zero":false},"axis":null},
  "y":{"datum":-21.8,"type":"quantitative","scale":{"domain":[0,120],"nice":false,"zero":false},"axis":null}}},
{"data":{"values":[{}]},
 "mark":{"type":"text","text":"A","font":"Liberation Sans","fontSize":19,"align":"left","baseline":"alphabetic","color":"#000"},
 "encoding":{
  "x":{"datum":1.0,"type":"quantitative","scale":{"domain":[0,300],"nice":false,"zero":false},"axis":null},
  "y":{"datum":-22.9,"type":"quantitative","scale":{"domain":[0,120],"nice":false,"zero":false},"axis":null}}},
{"data":{"values":[{}]},
 "mark":{"type":"text","text":"P","font":"Liberation Sans","fontSize":25,"align":"left","baseline":"alphabetic","color":"#000"},
 "encoding":{
  "x":{"datum":31.75,"type":"quantitative","scale":{"domain":[0,300],"nice":false,"zero":false},"axis":null},
  "y":{"datum":-21.8,"type":"quantitative","scale":{"domain":[0,120],"nice":false,"zero":false},"axis":null}}},
{"data":{"values":[{}]},
 "mark":{"type":"text","text":"A","font":"Liberation Sans","fontSize":25,"align":"left","baseline":"alphabetic","color":"#000"},
 "encoding":{
  "x":{"datum":61.8,"type":"quantitative","scale":{"domain":[0,300],"nice":false,"zero":false},"axis":null},
  "y":{"datum":-21.8,"type":"quantitative","scale":{"domain":[0,120],"nice":false,"zero":false},"axis":null}}},
{"data":{"values":[{}]},
 "mark":{"type":"text","text":"I","font":"Liberation Sans","fontSize":19,"align":"left","baseline":"alphabetic","color":"#000"},
 "encoding":{
  "x":{"datum":67.4,"type":"quantitative","scale":{"domain":[0,300],"nice":false,"zero":false},"axis":null},
  "y":{"datum":-22.9,"type":"quantitative","scale":{"domain":[0,120],"nice":false,"zero":false},"axis":null}}},
{"data":{"values":[{}]},
 "mark":{"type":"rule","color":"#008000","strokeWidth":2},
 "encoding":{
  "x":{"datum":12.5,"type":"quantitative","scale":{"domain":[0,300],"nice":false,"zero":false},"axis":null},
  "x2":{"datum":25.3},
  "y":{"datum":-18.9,"type":"quantitative","scale":{"domain":[0,120],"nice":false,"zero":false},"axis":null}}},
{"data":{"values":[{}]},
 "mark":{"type":"rule","color":"#0000ff","strokeWidth":2},
 "encoding":{
  "x":{"datum":44.2,"type":"quantitative","scale":{"domain":[0,300],"nice":false,"zero":false},"axis":null},
  "x2":{"datum":57.0},
  "y":{"datum":-18.9,"type":"quantitative","scale":{"domain":[0,120],"nice":false,"zero":false},"axis":null}}},
{"data":{"values":[{}]},
 "mark":{"type":"rule","color":"#ff0000","strokeWidth":2},
 "encoding":{
  "x":{"datum":75.7,"type":"quantitative","scale":{"domain":[0,300],"nice":false,"zero":false},"axis":null},
  "x2":{"datum":88.5},
  "y":{"datum":-18.9,"type":"quantitative","scale":{"domain":[0,120],"nice":false,"zero":false},"axis":null}}}
]
}
